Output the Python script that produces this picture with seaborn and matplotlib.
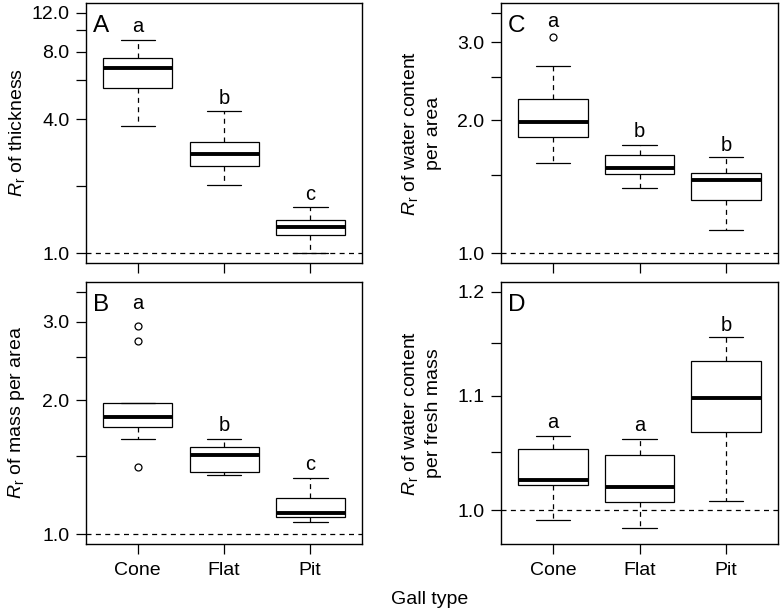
import matplotlib
matplotlib.use("Agg")
import matplotlib.pyplot as plt
import matplotlib.ticker as mticker
import seaborn as sns
import numpy as np
import pandas as pd

gall_types = ["Cone", "Flat", "Pit"]

# five-number summaries:
# lower whisker, Q1, median, Q3, upper whisker (one row per gall type)
thickness = [[3.73, 5.53, 6.78, 7.50, 9.08],
             [2.02, 2.47, 2.80, 3.16, 4.33],
             [1.00, 1.205, 1.318, 1.41, 1.61]]
mass_area = [[1.64, 1.737, 1.83, 1.973, 1.973],
             [1.357, 1.378, 1.505, 1.569, 1.64],
             [1.068, 1.096, 1.119, 1.207, 1.339]]
water_area = [[1.604, 1.835, 1.98, 2.23, 2.65],
              [1.407, 1.513, 1.558, 1.667, 1.76],
              [1.132, 1.318, 1.466, 1.523, 1.649]]
water_mass = [[0.992, 1.021, 1.0254, 1.052, 1.064],
              [0.9849, 1.0069, 1.0197, 1.0468, 1.061],
              [1.008, 1.067, 1.098, 1.1325, 1.155]]

# outlying points
mass_area_out_gall = ["Cone", "Cone", "Cone"]
mass_area_out = [2.93, 2.72, 1.414]
water_area_out_gall = ["Cone"]
water_area_out = [3.08]

# significance letters and their heights
thickness_letters = ["a", "b", "c"]
thickness_letter_y = [9.81, 4.67, 1.735]
mass_area_letters = ["a", "b", "c"]
mass_area_letter_y = [3.20, 1.707, 1.393]
water_area_letters = ["a", "b", "b"]
water_area_letter_y = [3.24, 1.835, 1.707]
water_mass_letters = ["a", "a", "b"]
water_mass_letter_y = [1.071, 1.068, 1.161]

sns.set_style("ticks")
plt.rcParams["font.family"] = ["Liberation Sans", "DejaVu Sans"]
plt.rcParams.update({
    "mathtext.fontset": "custom",
    "mathtext.rm": "Liberation Sans",
    "mathtext.it": "Liberation Sans:italic",
    "text.color": "black",
    "axes.labelcolor": "black",
    "axes.edgecolor": "black",
    "axes.linewidth": 1.0,
    "xtick.color": "black",
    "ytick.color": "black",
    "xtick.major.size": 7,
    "ytick.major.size": 7,
    "xtick.major.width": 0.9,
    "ytick.major.width": 0.9,
    "xtick.major.pad": 6,
    "ytick.major.pad": 5,
    "xtick.labelsize": 14,
    "ytick.labelsize": 14,
    "axes.labelsize": 14,
})

W, H = 780, 611
fig = plt.figure(figsize=(W / 100, H / 100), dpi=100)


def rect(l, t, r, b):
    return [l / W, 1 - b / H, (r - l) / W, (b - t) / H]


def panel(ax, summary, out_gall, out_vals, letters, letter_y, tag, ylabel,
          lims, ticks, ticklabels, bottom_row):
    df = pd.DataFrame({"gall": np.repeat(gall_types, 5),
                       "value": np.concatenate(summary)})
    ax.set_yscale("log")
    lw = 0.9
    sns.boxplot(data=df, x="gall", y="value", order=gall_types, ax=ax,
                whis=(0, 100), width=0.8, color="white", linecolor="black",
                linewidth=lw, saturation=1, showfliers=False,
                boxprops=dict(facecolor="white", edgecolor="black", linewidth=lw),
                medianprops=dict(color="black", linewidth=2.8),
                whiskerprops=dict(color="black", linewidth=lw,
                                  linestyle=(0, (4, 3.5))),
                capprops=dict(color="black", linewidth=lw))
    if out_vals:
        sns.stripplot(x=out_gall, y=out_vals, order=gall_types, ax=ax,
                      jitter=False, color="white", edgecolor="black",
                      linewidth=0.9, size=5, zorder=4)
    ax.axhline(1.0, color="black", linewidth=lw, linestyle=(0, (4, 3.5)),
               zorder=3)
    for i, (lab, y) in enumerate(zip(letters, letter_y)):
        ax.text(i, y, lab, ha="center", va="baseline", fontsize=14.5)
    ax.text(0.025, 0.955, tag, transform=ax.transAxes, ha="left", va="top",
            fontsize=17.5)

    # R-like 4% padding on a log axis
    lo, hi = np.log10(lims)
    pad = 0.04 * (hi - lo)
    ax.set_ylim(10 ** (lo - pad), 10 ** (hi + pad))
    ax.yaxis.set_major_locator(mticker.FixedLocator(ticks))
    ax.yaxis.set_major_formatter(mticker.FixedFormatter(ticklabels))
    ax.yaxis.set_minor_locator(mticker.NullLocator())
    ax.set_xlim(-0.6, 2.6)
    ax.set_xlabel("")
    ax.set_ylabel(ylabel, linespacing=1.35)
    ax.yaxis.set_label_coords(-0.213, 0.5)
    ax.tick_params(labelbottom=bottom_row)
    for s in ax.spines.values():
        s.set_visible(True)
        s.set_linewidth(1.0)


axA = fig.add_axes(rect(86, 3, 362, 263))
axC = fig.add_axes(rect(501, 3, 778, 263))
axB = fig.add_axes(rect(86, 282, 362, 544))
axD = fig.add_axes(rect(501, 282, 778, 544))

panel(axA, thickness, [], [], thickness_letters, thickness_letter_y, "A",
      r"$R_\mathrm{r}$ of thickness", (1, 12),
      [1, 2, 4, 6, 8, 10, 12], ["1.0", "", "4.0", "", "8.0", "", "12.0"], False)
panel(axB, mass_area, mass_area_out_gall, mass_area_out, mass_area_letters,
      mass_area_letter_y, "B", r"$R_\mathrm{r}$ of mass per area", (1, 3.5),
      [1, 1.5, 2, 2.5, 3, 3.5], ["1.0", "", "2.0", "", "3.0", ""], True)
panel(axC, water_area, water_area_out_gall, water_area_out, water_area_letters,
      water_area_letter_y, "C", "$R_\\mathrm{r}$ of water content\nper area",
      (1, 3.5), [1, 1.5, 2, 2.5, 3, 3.5],
      ["1.0", "", "2.0", "", "3.0", ""], False)
panel(axD, water_mass, [], [], water_mass_letters, water_mass_letter_y, "D",
      "$R_\\mathrm{r}$ of water content\nper fresh mass", (0.98, 1.2),
      [1.0, 1.05, 1.1, 1.15, 1.2], ["1.0", "", "1.1", "", "1.2"], True)

fig.text(430 / W, 1 - 600 / H, "Gall type", ha="center", va="center",
         fontsize=14)

fig.savefig("out.png", dpi=100)
